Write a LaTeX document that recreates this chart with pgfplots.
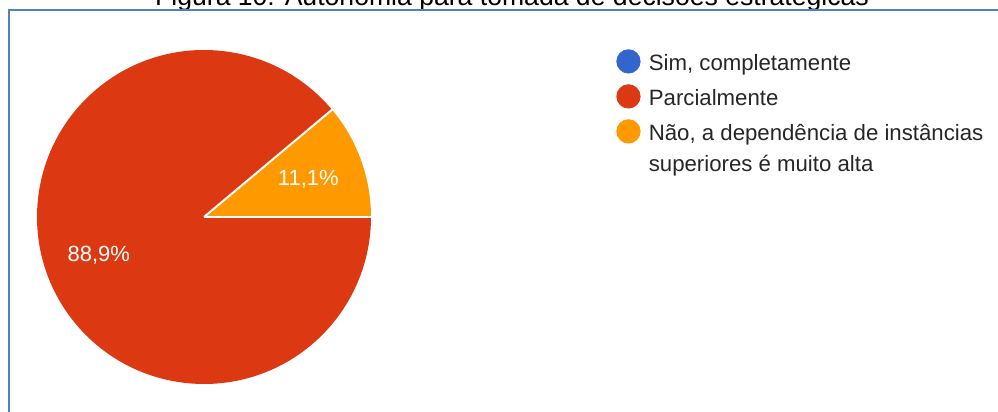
\documentclass[border=0pt]{standalone}
\usepackage{fontspec}
\setmainfont{Liberation Sans}
\usepackage{pgfplots}
\usepackage{pgfplotstable}
\usetikzlibrary{calc}
\pgfplotsset{compat=1.18}
\definecolor{gBlue}{HTML}{3366CC}
\definecolor{gRed}{HTML}{DC3912}
\definecolor{gOrange}{HTML}{FF9900}
\definecolor{frameBlue}{RGB}{79,129,189}
\definecolor{legText}{HTML}{262626}

% shares of the answers (percent)
\pgfplotstableread{
label value
Sim 0
Parcialmente 88.9
Nao 11.1
}\piedata
\pgfplotstablegetelem{1}{value}\of\piedata \let\vPar\pgfplotsretval
\pgfplotstablegetelem{2}{value}\of\piedata \let\vNao\pgfplotsretval
\pgfmathsetmacro\aNao{360*\vNao/100}
\pgfmathsetmacro\mNao{\aNao/2}
\pgfmathsetmacro\mPar{\aNao+(360-\aNao)/2}
\newcommand\pct[1]{\pgfmathprintnumber[fixed, fixed zerofill, precision=1,
  use comma, assume math mode=true]{#1}\%}

\begin{document}
\begin{tikzpicture}
% picture laid out in pixels of the reference: 1px = 0.5pt, y up
\begin{axis}[name=ax, scale only axis, width=499pt, height=206pt,
  xmin=0, xmax=998, ymin=0, ymax=412, hide axis, clip=false,
  legend style={at={(0.6172,0.8835)}, anchor=north west, draw=none, fill=none,
    inner sep=0pt, font=\fontsize{11.1}{15.5}\selectfont, text=legText,
    row sep=0pt, nodes={inner sep=0pt, text height=11pt, text depth=6.5pt}},
  legend cell align=left,
  legend style={cells={anchor=base west}}]
  \addlegendimage{legend image code/.code={\fill[gBlue] (5.85pt,4.5pt) circle[radius=5.85pt]; \path (15.85pt,4.5pt);}}
  \addlegendentry{Sim, completamente}
  \addlegendimage{legend image code/.code={\fill[gRed] (5.85pt,4.5pt) circle[radius=5.85pt]; \path (15.85pt,4.5pt);}}
  \addlegendentry{Parcialmente}
  \addlegendimage{legend image code/.code={\fill[gOrange] (5.85pt,4.5pt) circle[radius=5.85pt]; \path (15.85pt,4.5pt);}}
  \addlegendentry{\begin{tabular}[t]{@{}l@{}}Não, a dependência de instâncias\\superiores é muito alta\end{tabular}}
  % slices
  \fill[gRed] (axis cs:204,195) -- ++(\aNao:83.5pt) arc[start angle=\aNao, end angle=360, radius=83.5pt] -- cycle;
  \fill[gOrange] (axis cs:204,195) -- ++(0:83.5pt) arc[start angle=0, end angle=\aNao, radius=83.5pt] -- cycle;
  \draw[white, line width=1pt] (axis cs:204,195) -- ++(0:83.5pt);
  \draw[white, line width=1pt] (axis cs:204,195) -- ++(\aNao:83.5pt);
  \node[white, font=\fontsize{11}{13}\selectfont] at ($(axis cs:204,195)+(\mPar:56pt)$) {\pct{\vPar}};
  \node[white, font=\fontsize{11}{13}\selectfont] at ($(axis cs:204,195)+(\mNao:55.5pt)$) {\pct{\vNao}};
  % caption cut by the top of the picture, and the frame
  \node[anchor=base, font=\fontsize{13.3}{15}\selectfont, inner sep=0pt] at (axis cs:512,406)
    {Figura 10: Autonomia para tomada de decisões estratégicas};
  \draw[frameBlue, line width=1.1pt] (axis cs:998,402) -- (axis cs:9,402) -- (axis cs:9,0);
\end{axis}
\pgfresetboundingbox
\path[use as bounding box] (ax.south west) rectangle (ax.north east);
\end{tikzpicture}
\end{document}
